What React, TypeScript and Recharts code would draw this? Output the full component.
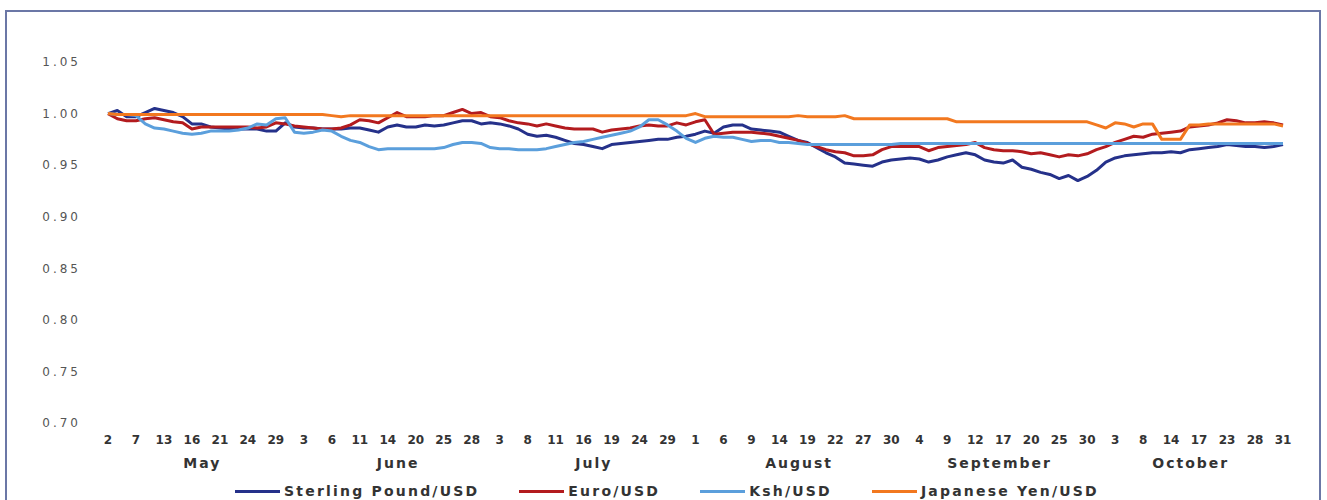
import React from "react";
import { LineChart, Line, XAxis, YAxis } from "recharts";

// Trading days per month (every third one is labelled on the axis)
const months = ["May", "June", "July", "August", "September", "October"];
const mayDays = [2, 3, 6, 7, 8, 10, 13, 14, 15, 16, 17, 20, 21, 22, 23, 24, 27, 28, 29, 30, 31];
const juneDays = [3, 4, 5, 6, 7, 10, 11, 12, 13, 14, 17, 18, 20, 21, 24, 25, 26, 27, 28, 29, 30];
const julyDays = [3, 4, 7, 8, 9, 10, 11, 14, 15, 16, 17, 18, 19, 22, 23, 24, 25, 28, 29, 30, 31];
const augustDays = [1, 2, 5, 6, 7, 8, 9, 12, 13, 14, 15, 16, 19, 20, 21, 22, 23, 26, 27, 28, 29, 30, 31];
const septemberDays = [1, 4, 5, 8, 9, 10, 11, 12, 15, 16, 17, 18, 19, 20, 23, 24, 25, 26, 29, 30];
const octoberDays = [1, 2, 3, 6, 7, 8, 9, 13, 14, 15, 16, 17, 20, 22, 23, 24, 27, 28, 29, 30, 31];
const monthDays = [mayDays, juneDays, julyDays, augustDays, septemberDays, octoberDays];

// Rebased exchange rates (start = 1.00)
const sterling = [
  1.0, 1.003, 0.997, 0.997, 1.001, 1.005, 1.003, 1.001, 0.997, 0.99, 0.99, 0.987, 0.986, 0.985, 0.985, 0.985, 0.985, 0.983, 0.983, 0.991, 0.987,
  0.986, 0.986, 0.985, 0.985, 0.985, 0.986, 0.986, 0.984, 0.982, 0.987, 0.989, 0.987, 0.987, 0.989, 0.988, 0.989, 0.991, 0.993, 0.993, 0.99, 0.991,
  0.99, 0.988, 0.985, 0.98, 0.978, 0.979, 0.977, 0.974, 0.971, 0.97, 0.968, 0.966, 0.97, 0.971, 0.972, 0.973, 0.974, 0.975, 0.975, 0.977, 0.978,
  0.98, 0.983, 0.981, 0.987, 0.989, 0.989, 0.985, 0.984, 0.983, 0.982, 0.978, 0.974, 0.972, 0.967, 0.962, 0.958, 0.952, 0.951, 0.95, 0.949, 0.953, 0.955, 0.956,
  0.957, 0.956, 0.953, 0.955, 0.958, 0.96, 0.962, 0.96, 0.955, 0.953, 0.952, 0.955, 0.948, 0.946, 0.943, 0.941, 0.937, 0.94, 0.935, 0.939,
  0.945, 0.953, 0.957, 0.959, 0.96, 0.961, 0.962, 0.962, 0.963, 0.962, 0.965, 0.966, 0.967, 0.968, 0.97, 0.969, 0.968, 0.968, 0.967, 0.968, 0.97,
];
const euro = [
  1.0, 0.995, 0.993, 0.993, 0.995, 0.996, 0.994, 0.992, 0.991, 0.985, 0.987, 0.987, 0.987, 0.987, 0.987, 0.987, 0.986, 0.987, 0.991, 0.99, 0.988,
  0.987, 0.986, 0.985, 0.985, 0.986, 0.989, 0.994, 0.993, 0.991, 0.996, 1.001, 0.997, 0.997, 0.997, 0.998, 0.998, 1.001, 1.004, 1.0, 1.001, 0.997,
  0.996, 0.993, 0.991, 0.99, 0.988, 0.99, 0.988, 0.986, 0.985, 0.985, 0.985, 0.982, 0.984, 0.985, 0.986, 0.988, 0.989, 0.988, 0.988, 0.991, 0.989,
  0.992, 0.994, 0.98, 0.981, 0.982, 0.982, 0.982, 0.981, 0.98, 0.978, 0.976, 0.974, 0.971, 0.968, 0.965, 0.963, 0.962, 0.959, 0.959, 0.96, 0.965, 0.968, 0.968,
  0.968, 0.968, 0.964, 0.967, 0.968, 0.969, 0.97, 0.972, 0.967, 0.965, 0.964, 0.964, 0.963, 0.961, 0.962, 0.96, 0.958, 0.96, 0.959, 0.961,
  0.965, 0.968, 0.972, 0.975, 0.978, 0.977, 0.98, 0.981, 0.982, 0.983, 0.987, 0.988, 0.989, 0.991, 0.994, 0.993, 0.991, 0.991, 0.992, 0.991, 0.989,
];
const ksh = [
  1.0, 0.999, 0.999, 0.998, 0.99, 0.986, 0.985, 0.983, 0.981, 0.98, 0.981, 0.983, 0.983, 0.983, 0.984, 0.986, 0.99, 0.989, 0.995, 0.996, 0.982,
  0.981, 0.982, 0.984, 0.983, 0.978, 0.974, 0.972, 0.968, 0.965, 0.966, 0.966, 0.966, 0.966, 0.966, 0.966, 0.967, 0.97, 0.972, 0.972, 0.971, 0.967,
  0.966, 0.966, 0.965, 0.965, 0.965, 0.966, 0.968, 0.97, 0.972, 0.973, 0.975, 0.977, 0.979, 0.981, 0.983, 0.987, 0.994, 0.994, 0.989, 0.983, 0.976,
  0.972, 0.976, 0.978, 0.977, 0.977, 0.975, 0.973, 0.974, 0.974, 0.972, 0.972, 0.971, 0.97, 0.97, 0.97, 0.97, 0.97, 0.97, 0.97, 0.97, 0.97, 0.97, 0.971,
  0.971, 0.971, 0.971, 0.971, 0.971, 0.971, 0.971, 0.971, 0.971, 0.971, 0.971, 0.971, 0.971, 0.971, 0.971, 0.971, 0.971, 0.971, 0.971, 0.971,
  0.971, 0.971, 0.971, 0.971, 0.971, 0.971, 0.971, 0.971, 0.971, 0.971, 0.971, 0.971, 0.971, 0.971, 0.971, 0.971, 0.971, 0.971, 0.971, 0.971, 0.971,
];
const yen = [
  1.0, 0.999, 0.999, 0.999, 0.999, 0.999, 0.999, 0.999, 0.999, 0.999, 0.999, 0.999, 0.999, 0.999, 0.999, 0.999, 0.999, 0.999, 0.999, 0.999, 0.999,
  0.999, 0.999, 0.999, 0.998, 0.997, 0.998, 0.998, 0.998, 0.998, 0.998, 0.998, 0.998, 0.998, 0.998, 0.998, 0.998, 0.998, 0.998, 0.998, 0.998, 0.998,
  0.998, 0.998, 0.998, 0.998, 0.998, 0.998, 0.998, 0.998, 0.998, 0.998, 0.998, 0.998, 0.998, 0.998, 0.998, 0.998, 0.998, 0.998, 0.998, 0.998, 0.998,
  1.0, 0.997, 0.997, 0.997, 0.997, 0.997, 0.997, 0.997, 0.997, 0.997, 0.997, 0.998, 0.997, 0.997, 0.997, 0.997, 0.998, 0.995, 0.995, 0.995, 0.995, 0.995, 0.995,
  0.995, 0.995, 0.995, 0.995, 0.995, 0.992, 0.992, 0.992, 0.992, 0.992, 0.992, 0.992, 0.992, 0.992, 0.992, 0.992, 0.992, 0.992, 0.992, 0.992,
  0.989, 0.986, 0.991, 0.99, 0.987, 0.99, 0.99, 0.975, 0.975, 0.975, 0.989, 0.989, 0.99, 0.99, 0.99, 0.99, 0.99, 0.99, 0.99, 0.99, 0.988,
];

const yTicks = [0.7, 0.75, 0.8, 0.85, 0.9, 0.95, 1.0, 1.05];

const series = [
  { key: "gbp", name: "Sterling Pound/USD", color: "#25318a", values: sterling },
  { key: "eur", name: "Euro/USD", color: "#b31b1e", values: euro },
  { key: "ksh", name: "Ksh/USD", color: "#5b9fdc", values: ksh },
  { key: "jpy", name: "Japanese Yen/USD", color: "#f2781f", values: yen },
];

// layout
const CHART_W = 1312;
const CHART_H = 488;
const MARGIN = { top: 50, right: 31, left: 0, bottom: 25 };
const Y_AXIS_W = 96;
const X_PAD = 5;

type Row = { label: string; [k: string]: number | string };

const rows: Row[] = [];
const monthSpans: { name: string; tickLabel: string; shift: number }[] = [];
monthDays.forEach((days, m) => {
  const first = rows.length;
  days.forEach((d) => rows.push({ label: `${months[m]} ${d}` }));
  const center = (first + rows.length - 1) / 2;
  const at = Math.floor(center);
  monthSpans.push({ name: months[m], tickLabel: rows[at].label as string, shift: center - at });
});
rows.forEach((r, i) => {
  series.forEach((s) => {
    r[s.key] = s.values[i];
  });
});

const STEP =
  (CHART_W - MARGIN.left - MARGIN.right - Y_AXIS_W - 2 * X_PAD) / (rows.length - 1);

const font = "'DejaVu Sans', Verdana, sans-serif";

function YTick(props: any) {
  const { x, y, payload } = props;
  return (
    <text x={x} y={y} dy="0.36em" textAnchor="end" fill="#555" fontSize={12} fontFamily={font} letterSpacing={3}>
      {Number(payload.value).toFixed(2)}
    </text>
  );
}

function DayTick(props: any) {
  const { x, y, payload } = props;
  const day = String(payload.value).split(" ")[1];
  return (
    <text x={x} y={y} dy="0.73em" textAnchor="middle" fill="#333" fontSize={12} fontWeight="bold" fontFamily={font}>
      {day}
    </text>
  );
}

function MonthTick(props: any) {
  const { x, y, payload } = props;
  const span = monthSpans.find((s) => s.tickLabel === payload.value);
  if (!span) return null;
  return (
    <text
      x={x + span.shift * STEP + 1}
      y={y}
      dy="0.73em"
      textAnchor="middle"
      fill="#333"
      fontSize={14}
      fontWeight="bold"
      fontFamily={font}
      letterSpacing={2}
    >
      {span.name}
    </text>
  );
}

export default function App() {
  return (
    <div
      style={{
        position: "absolute",
        left: 5,
        top: 10,
        width: CHART_W,
        height: CHART_H,
        borderTop: "2px solid #6b77a6",
        borderLeft: "2px solid #6b77a6",
        borderRight: "2px solid #6b77a6",
        background: "#fff",
      }}
    >
      <LineChart width={CHART_W} height={CHART_H} data={rows} margin={MARGIN}>
        <XAxis
          dataKey="label"
          interval={2}
          axisLine={false}
          tickLine={false}
          tickSize={0}
          tickMargin={12}
          height={30}
          padding={{ left: X_PAD, right: X_PAD }}
          tick={<DayTick />}
        />
        <XAxis
          xAxisId="month"
          dataKey="label"
          ticks={monthSpans.map((s) => s.tickLabel)}
          interval={0}
          axisLine={false}
          tickLine={false}
          tickSize={0}
          tickMargin={5}
          height={22}
          padding={{ left: X_PAD, right: X_PAD }}
          tick={<MonthTick />}
        />
        <YAxis
          domain={[0.7, 1.05]}
          ticks={yTicks}
          width={Y_AXIS_W}
          axisLine={false}
          tickLine={false}
          tickSize={6}
          tickMargin={16}
          tick={<YTick />}
        />
        {series.map((s) => (
          <Line
            key={s.key}
            dataKey={s.key}
            name={s.name}
            stroke={s.color}
            strokeWidth={3}
            strokeLinejoin="round"
            dot={false}
            type="linear"
            isAnimationActive={false}
          />
        ))}
      </LineChart>
      <div
        style={{
          position: "absolute",
          left: 0,
          right: 0,
          top: 470,
          height: 18,
          display: "flex",
          justifyContent: "center",
          alignItems: "center",
          gap: 40,
          paddingLeft: 8,
          fontFamily: font,
          fontWeight: "bold",
          fontSize: 14,
          letterSpacing: 2.2,
          color: "#333",
          whiteSpace: "nowrap",
        }}
      >
        {series.map((s) => (
          <div key={s.key} style={{ display: "flex", alignItems: "center" }}>
            <span style={{ display: "inline-block", width: 45, height: 3, background: s.color, marginRight: 4 }} />
            <span>{s.name}</span>
          </div>
        ))}
      </div>
    </div>
  );
}
